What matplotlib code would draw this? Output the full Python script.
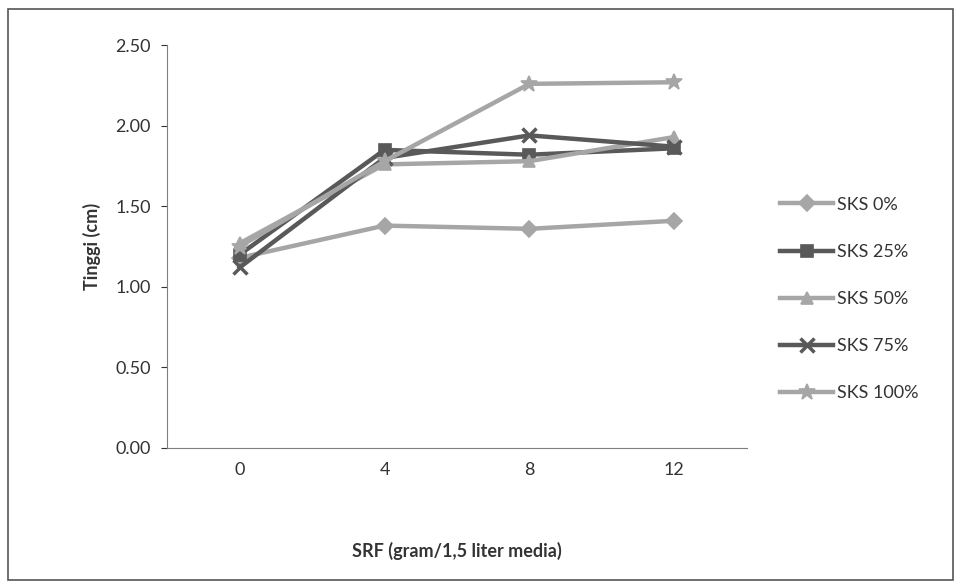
import matplotlib
matplotlib.use("Agg")
import matplotlib.pyplot as plt
from matplotlib.patches import Rectangle

categories = ["0", "4", "8", "12"]
series_names = ["SKS 0%", "SKS 25%", "SKS 50%", "SKS 75%", "SKS 100%"]
sks0 = [1.18, 1.38, 1.36, 1.41]
sks25 = [1.20, 1.85, 1.82, 1.86]
sks50 = [1.27, 1.76, 1.78, 1.93]
sks75 = [1.12, 1.80, 1.94, 1.87]
sks100 = [1.25, 1.78, 2.26, 2.27]
y_ticks = [0.0, 0.5, 1.0, 1.5, 2.0, 2.5]

plt.rcParams['font.family'] = ['Lato', 'DejaVu Sans']

fig = plt.figure(figsize=(9.61, 5.87), dpi=100)
ax = fig.add_axes([0.174, 0.237, 0.603, 0.686])

light = '#a6a6a6'
dark = '#595959'
styles = [
    (sks0, light, 'D', 8),
    (sks25, dark, 's', 9),
    (sks50, light, '^', 9),
    (sks75, dark, 'x', 10),
    (sks100, light, '*', 12),
]
x = list(range(len(categories)))
for name, (vals, col, mk, ms) in zip(series_names, styles):
    ax.plot(x, vals, color=col, lw=3.2, marker=mk, markersize=ms,
            markeredgewidth=2.5 if mk in ('x',) else 1.2,
            markerfacecolor=col, markeredgecolor=col, label=name)

ax.set_xlim(-0.5, 3.5)
ax.set_ylim(0, 2.5)
ax.set_xticks(x)
ax.set_xticklabels(categories)
ax.set_yticks(y_ticks)
ax.set_yticklabels([f"{v:.2f}" for v in y_ticks])
ax.tick_params(axis='both', labelsize=13, colors='#333333', length=4)
ax.tick_params(axis='x', length=0, pad=10)
ax.tick_params(axis='y', pad=8)
for s in ['top', 'right']:
    ax.spines[s].set_visible(False)
ax.spines['left'].set_color('#7f7f7f')
ax.spines['bottom'].set_color('#7f7f7f')

ax.set_ylabel('Tinggi (cm)', fontsize=13, fontweight='bold', color='#333333', labelpad=10)
ax.set_xlabel('SRF (gram/1,5 liter media)', fontsize=13, fontweight='bold', color='#333333', labelpad=46)

leg = ax.legend(loc='center left', bbox_to_anchor=(1.03, 0.37), frameon=False,
                fontsize=13, labelspacing=1.72, handlelength=2.9, handletextpad=0.25,
                labelcolor='#333333')

fig.add_artist(Rectangle((0.008, 0.012), 0.984, 0.972, transform=fig.transFigure,
                         fill=False, edgecolor='#555555', lw=1.2))

fig.savefig('out.png', dpi=100)
